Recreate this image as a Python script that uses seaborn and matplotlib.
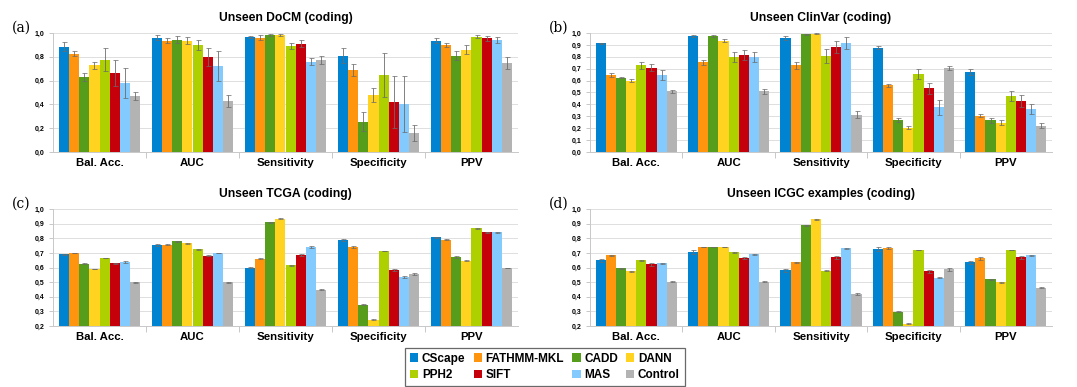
import numpy as np
import pandas as pd
import matplotlib
matplotlib.use("Agg")
import matplotlib.pyplot as plt
import seaborn as sns
from matplotlib.patches import Patch
from matplotlib.ticker import FixedLocator, FuncFormatter

plt.rcParams["font.family"] = ["Liberation Sans", "DejaVu Sans"]

metrics = ["Bal. Acc.", "AUC", "Sensitivity", "Specificity", "PPV"]
tools = ["CScape", "FATHMM-MKL", "CADD", "DANN", "PPH2", "SIFT", "MAS", "Control"]
colors = ["#0084d1", "#ff950e", "#579d1c", "#ffd320", "#aecf00", "#c5000b", "#83caff", "#b3b3b3"]

# Werte je Metrik (Zeile) und Werkzeug (Spalte)
docm_vals = [
    [0.885, 0.825, 0.630, 0.730, 0.775, 0.665, 0.580, 0.470],
    [0.960, 0.935, 0.945, 0.935, 0.900, 0.800, 0.720, 0.430],
    [0.970, 0.960, 0.985, 0.985, 0.890, 0.910, 0.760, 0.775],
    [0.810, 0.690, 0.255, 0.480, 0.650, 0.420, 0.400, 0.160],
    [0.935, 0.900, 0.810, 0.860, 0.970, 0.955, 0.945, 0.750],
]
docm_err = [
    [0.040, 0.020, 0.030, 0.030, 0.095, 0.110, 0.125, 0.035],
    [0.020, 0.020, 0.030, 0.030, 0.040, 0.075, 0.125, 0.050],
    [0.008, 0.020, 0.010, 0.010, 0.025, 0.030, 0.030, 0.035],
    [0.065, 0.050, 0.080, 0.060, 0.185, 0.215, 0.235, 0.070],
    [0.020, 0.020, 0.040, 0.040, 0.015, 0.020, 0.025, 0.050],
]

clinvar_vals = [
    [0.915, 0.645, 0.625, 0.600, 0.730, 0.710, 0.645, 0.510],
    [0.975, 0.755, 0.975, 0.935, 0.800, 0.815, 0.800, 0.510],
    [0.960, 0.730, 0.990, 0.995, 0.805, 0.880, 0.915, 0.315],
    [0.875, 0.560, 0.270, 0.205, 0.655, 0.535, 0.375, 0.705],
    [0.670, 0.305, 0.265, 0.245, 0.470, 0.425, 0.360, 0.220],
]
clinvar_err = [
    [0.005, 0.015, 0.007, 0.010, 0.030, 0.030, 0.040, 0.015],
    [0.005, 0.020, 0.005, 0.012, 0.040, 0.040, 0.040, 0.020],
    [0.015, 0.030, 0.005, 0.003, 0.060, 0.050, 0.050, 0.030],
    [0.012, 0.015, 0.015, 0.012, 0.040, 0.045, 0.060, 0.015],
    [0.025, 0.015, 0.020, 0.020, 0.040, 0.050, 0.040, 0.020],
]

tcga_vals = [
    [0.690, 0.700, 0.625, 0.590, 0.665, 0.630, 0.638, 0.500],
    [0.755, 0.755, 0.780, 0.765, 0.725, 0.680, 0.700, 0.500],
    [0.598, 0.660, 0.910, 0.935, 0.615, 0.685, 0.740, 0.448],
    [0.788, 0.740, 0.345, 0.242, 0.713, 0.582, 0.535, 0.557],
    [0.807, 0.790, 0.672, 0.645, 0.868, 0.840, 0.840, 0.598],
]
tcga_err = [
    [0.005, 0.002, 0.003, 0.002, 0.002, 0.004, 0.004, 0.004],
    [0.005, 0.003, 0.003, 0.004, 0.002, 0.004, 0.002, 0.004],
    [0.003, 0.003, 0.004, 0.004, 0.002, 0.005, 0.004, 0.004],
    [0.010, 0.004, 0.004, 0.004, 0.002, 0.005, 0.008, 0.008],
    [0.004, 0.003, 0.004, 0.003, 0.002, 0.004, 0.004, 0.002],
]

icgc_vals = [
    [0.650, 0.683, 0.595, 0.573, 0.650, 0.623, 0.628, 0.503],
    [0.705, 0.740, 0.740, 0.740, 0.705, 0.665, 0.690, 0.503],
    [0.580, 0.637, 0.890, 0.930, 0.578, 0.670, 0.730, 0.418],
    [0.725, 0.732, 0.298, 0.215, 0.720, 0.573, 0.530, 0.588],
    [0.637, 0.663, 0.518, 0.498, 0.720, 0.670, 0.683, 0.462],
]
icgc_err = [
    [0.010, 0.003, 0.003, 0.003, 0.003, 0.010, 0.003, 0.004],
    [0.015, 0.003, 0.003, 0.003, 0.003, 0.010, 0.004, 0.004],
    [0.010, 0.003, 0.003, 0.003, 0.005, 0.010, 0.005, 0.008],
    [0.015, 0.005, 0.003, 0.003, 0.003, 0.010, 0.005, 0.010],
    [0.010, 0.010, 0.005, 0.003, 0.003, 0.010, 0.005, 0.005],
]

panels = [
    ("(a)", "Unseen DoCM (coding)", docm_vals, docm_err, 0.0, np.arange(0.0, 1.01, 0.2)),
    ("(b)", "Unseen ClinVar (coding)", clinvar_vals, clinvar_err, 0.0, np.arange(0.0, 1.01, 0.1)),
    ("(c)", "Unseen TCGA (coding)", tcga_vals, tcga_err, 0.2, np.arange(0.2, 1.01, 0.1)),
    ("(d)", "Unseen ICGC examples (coding)", icgc_vals, icgc_err, 0.2, np.arange(0.2, 1.01, 0.1)),
]

# Achsenpositionen in Pixeln (links, oben, rechts, unten)
W, H = 1077, 387
boxes = [(53, 33, 518, 152), (590, 33, 1052, 152), (53, 209, 518, 326), (590, 209, 1052, 326)]

fig = plt.figure(figsize=(W / 100, H / 100), dpi=100)
palette = dict(zip(tools, colors))

for (tag, title, vals, errs, ymin, ticks), (l, t, r, b) in zip(panels, boxes):
    ax = fig.add_axes([l / W, 1 - b / H, (r - l) / W, (b - t) / H])
    df = pd.DataFrame(
        [(m, tool, vals[i][j], errs[i][j]) for i, m in enumerate(metrics) for j, tool in enumerate(tools)],
        columns=["metric", "tool", "value", "err"],
    )
    sns.barplot(
        data=df, x="metric", y="value", hue="tool", order=metrics, hue_order=tools,
        palette=palette, width=0.88, gap=0, errorbar=None, linewidth=0,
        saturation=1, legend=False, ax=ax,
    )
    # Fehlerbalken an den Balkenmitten
    bar_conts = list(ax.containers)
    for j, cont in enumerate(bar_conts):
        xs = [p.get_x() + p.get_width() / 2 for p in cont.patches]
        ys = [p.get_height() for p in cont.patches]
        e = [errs[i][j] for i in range(len(metrics))]
        ax.errorbar(xs, ys, yerr=e, fmt="none", ecolor="#6b6b6b", elinewidth=0.7,
                    capsize=1.8, capthick=0.6, alpha=0.85, zorder=4)
    ax.set_ylim(ymin, 1.0)
    ax.set_xlim(-0.5, len(metrics) - 0.5)
    ax.yaxis.set_major_locator(FixedLocator(ticks))
    ax.yaxis.set_major_formatter(FuncFormatter(lambda v, p: f"{v:.1f}".replace(".", ",")))
    ax.set_axisbelow(True)
    ax.grid(axis="y", color="#dedede", linewidth=0.7)
    ax.grid(axis="x", visible=False)
    ax.xaxis.set_minor_locator(FixedLocator(np.arange(0.5, len(metrics) - 0.6, 1.0)))
    ax.tick_params(axis="x", which="major", length=0, labelsize=8.2, pad=4)
    ax.tick_params(axis="x", which="minor", length=4, color="#c8c8c8", width=0.7)
    ax.tick_params(axis="y", length=3, color="#c8c8c8", width=0.7, labelsize=5, pad=3)
    for lab in ax.get_xticklabels() + ax.get_yticklabels():
        lab.set_fontweight("bold")
    for side in ["top", "right"]:
        ax.spines[side].set_visible(False)
    for side in ["left", "bottom"]:
        ax.spines[side].set_color("#c8c8c8")
        ax.spines[side].set_linewidth(0.7)
    ax.set_xlabel("")
    ax.set_ylabel("")
    ax.set_title(title, fontsize=8.7, fontweight="bold", pad=9)
    fig.text((l - 41) / W, 1 - (t - 5) / H, tag, family="DejaVu Serif", fontsize=10, va="center")

# Legende: Zeilen wie im Original, matplotlib fuellt spaltenweise
handles = [Patch(facecolor=c, edgecolor="none") for c in colors]
order = [0, 4, 1, 5, 2, 6, 3, 7]
leg = fig.legend(
    [handles[i] for i in order], [tools[i] for i in order],
    ncol=4, loc="center", bbox_to_anchor=(545 / W, 1 - 367 / H),
    prop={"weight": "bold", "size": 8.5}, handlelength=0.7, handleheight=0.7,
    handletextpad=0.3, columnspacing=0.7, labelspacing=0.4, borderpad=0.4,
    fancybox=False, frameon=True,
)
leg.get_frame().set_edgecolor("#444444")
leg.get_frame().set_linewidth(0.9)

fig.savefig("out.png", dpi=100)
